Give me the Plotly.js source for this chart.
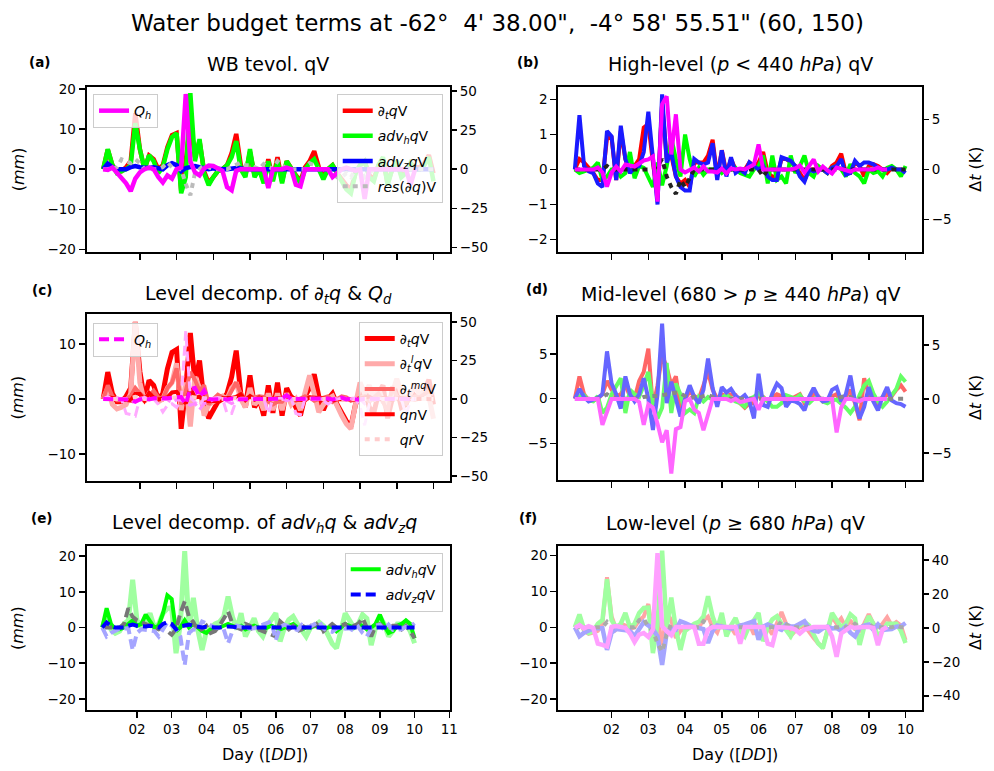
<!DOCTYPE html>
<html>
<head>
<meta charset="utf-8">
<script src="https://cdn.plot.ly/plotly-3.0.1.min.js"></script>
<style>html,body{margin:0;padding:0;background:#fff;}#chart{width:994px;height:771px;}</style>
</head>
<body>
<div id="chart"></div>
<script>
// ---- time axis (days of month, 3-hourly) ----
const T = [1,1.125,1.25,1.375,1.5,1.625,1.75,1.875,
  2,2.125,2.25,2.375,2.5,2.625,2.75,2.875,
  3,3.125,3.25,3.375,3.5,3.625,3.75,3.875,
  4,4.125,4.25,4.375,4.5,4.625,4.75,4.875,
  5,5.125,5.25,5.375,5.5,5.625,5.75,5.875,
  6,6.125,6.25,6.375,6.5,6.625,6.75,6.875,
  7,7.125,7.25,7.375,7.5,7.625,7.75,7.875,
  8,8.125,8.25,8.375,8.5,8.625,8.75,8.875,
  9,9.125,9.25,9.375,9.5,9.625,9.75,9.875,10];
const dayTicks = [2,3,4,5,6,7,8,9,10];
const dayLabels = ['02','03','04','05','06','07','08','09','10'];
const dayTicksE = [2,3,4,5,6,7,8,9,10,11];
const dayLabelsE = ['02','03','04','05','06','07','08','09','10','11'];

// ---- (a) column totals ----
const dtqTot = [0,4.9,1,-0.5,-0.5,0.5,2,14,5,0, 3.4,2.5,0,1,5.5,8.5,9,-5.4,2,12, 3,7,-0.5,-3.5,-2,-0.5,0,1,4,8.8,
  1,-1.5,4.3,-1.5,0,-3,2.5,-2.5,3,-3, 2,0,-1.5,-3,0.5,2,4.5,0.5,-2,0, 1,-1,-2.5,-4,-5,-1,1,2,-1.5,-2.5,
  1,2.5,-3.5,0,2,-1.5,-1,1.5,0.5,0.5,1.5,3.5,-1];
const advhTot = [0,5,1,-1,-0.5,0,1,11.5,5,0, 3.5,2,-1,0.5,5,8,9,-6,-2,19, 2,7.5,-1,-4,-2,-0.5,0,1,3,7,
  0,-2,5,-2,0,-3.5,2,-3,2,-3.5, 2,0,-2,-3.5,0,1.5,2.5,0,-2.5,0, 1,-1,-3,-5,-6,-1,1,2,-2,-3,
  1,3,-4,0,2,-2,-1,1.5,0,0,1,3,-3];
const advzTot = [0,1.4,0.5,0,0,0,0.5,0.8,0.5,0.3, 0.3,0.5,0.3,0,1,1.5,1,-0.5,0.3,0.5, 0.8,0.5,0.2,0,0.2,0,0,0,0.2,0.3,
  0.2,0,0,0,0.1,0,0,0,0,0, 0,0,0.1,0,0,0,0,0,0,0, 0,0,0,0,0,0,0,0,0,0, 0,0,0,0,0,0,0,0,0,0,0,0,0];
const resTot = [0,0,0,0.5,2.5,2,1.5,2.5,1.5,0, 0,0,0,0.5,1.7,0.5,0,0,-3.7,-6.5, -1,0,1,0.5,0,0,0,0,0.5,1,
  1.7,1,1,0.5,0,1.3,0.5,0,2,1, 0,0,0,0,0,1.5,1,0,0,0, -1,-2,-2,-1,-2,0,0,-2,-1,0, 0,0,0,0,0,0,0,0,0,0,0,0,0];
const QhTot = [0,-0.5,1,-2,-6,-9,-14,-6,-2,0, 1,0,-5,-8.5,-4,-6,0,1,48,5, -2,-4,0.5,2.3,2,0.5,-1,-11.5,-13.5,-1,
  0,0,0,0,0,0,-12,0,0,0, 1,0,-10,-11,0,0,0,0,0,0, -5,-2,0,1,0,-1,0,-19,0,0, 0,0,0,0,0,0,0,-10,0];

// ---- (b) high level ----
const redHigh = [0,0.3,0.2,0.05,-0.1,-0.3,-0.3,0.9,0.9,-0.3, 1.1,0.3,-0.1,0.1,0.3,1.2,1.3,0.2,-0.8,1.9,
  0.3,0.4,-0.2,-0.4,-0.3,-0.5,0.2,0.2,0.2,0.4, 0.85,-0.2,0.55,-0.1,0.3,0,0,0,0.2,0.1,
  0.2,0.5,-0.1,-0.2,-0.2,0.3,0.3,0.2,0.1,-0.1, -0.3,0,0,0,0,-0.1,0.1,0.2,0.45,-0.1,
  -0.1,0.2,0.1,-0.2,0.1,0.15,0.1,0,-0.1,0.05,0,0,-0.05];
const greenHigh = [0,-0.1,-0.05,0,0.05,0.2,-0.3,-0.2,0,0, -0.2,-0.1,0.5,-0.25,0.1,0.05,-0.2,-0.5,0.2,-0.45,
  0.1,0.9,0.3,-0.2,1.0,0.3,-0.2,0.05,-0.15,0, 0,0.05,-0.1,0,0,0.05,-0.1,-0.15,-0.2,0,
  0.1,0.4,-0.4,0.4,-0.3,-0.2,-0.4,0.4,-0.1,0.1, 0.4,-0.1,-0.2,0.1,0,-0.1,0.05,0.1,0,-0.2,
  0.15,-0.1,-0.2,-0.4,0,-0.1,-0.05,-0.2,0.05,0.1,0,-0.2,0.1];
const blueHigh = [0,1.55,0.1,-0.05,-0.1,-0.4,-0.5,1.1,0.95,-0.3, 1.25,0.3,-0.1,0.05,0.1,0.5,1.65,0.3,-1,2.15,
  0.2,0.5,-0.2,-0.5,-0.6,-0.6,0.3,0.2,0.15,0.2, 0.75,-0.3,0.55,-0.2,0.35,-0.1,0,-0.1,0.2,0.1,
  0,0.1,-0.2,-0.3,-0.3,0.35,0.3,0.25,0.1,-0.2, -0.35,0,-0.05,0,0,-0.1,0.05,0.1,0.3,-0.15,
  -0.1,0.25,0.1,0.2,0.2,0.15,0.05,0,0,0.05,0,0,-0.1];
const resHigh = [0,0,0,0,0,0,0,0.1,0,0, 0,0,0,0,0,0,0,0,0.1,0.3, -0.2,-0.5,-0.7,-0.3,-0.5,-0.25,0,0,0,0,
  0,0,0,0,0,0,0,0,0,0, 0,-0.2,0,0,0,0,0,0,0,0, 0,0,0,0,0,0,0,0,0,0, 0,0,0,0,0,0,0,0,0,0,0,0,0];
const QhHigh = [0,0,0,0,0,0.2,-0.3,-1.7,-0.3,0.3, -0.2,0.5,0.4,0.3,0.6,0.9,1.0,1.3,-3.2,6.5,
  7.3,1.5,5.5,0,-0.3,0,0.2,-0.2,0.3,-0.2, -0.2,-0.3,0.1,-0.4,0.1,0,0.1,0,0.2,0.5,
  2.5,0,0,0,0,0,0,0,0.1,0.4, -0.3,0.3,1.0,-0.2,0.3,-0.1,-0.4,0.2,0.1,0, -0.2,0,0,0,0,0,0.2,0,0];

// ---- (d) mid level ----
const redMid = [0,2.5,0.5,-0.2,-0.2,0,0.5,2,1,0.3, 0.5,1.5,0.3,0,2,3,5.6,-1,1.5,4.9,
  3.5,1.5,2.5,-1,0,0.8,0.3,0,1.5,3, 1,0,0.5,0.3,0.5,0.4,-0.5,-1,-0.5,-0.5,
  0.5,0.2,-0.3,0.2,0.5,0.3,-0.3,0,0.2,0.5, -0.5,0,0.5,0.3,-0.3,0,0.3,0.5,-0.5,0.3,
  1,-0.5,-2.4,2.3,0.5,-0.2,-0.8,0.2,0.5,0.3,1,1.5,0.8];
const greenMid = [0,0.3,0.4,-0.2,-0.3,0.3,-1.6,-1,0.5,1.5, 2.3,-1.6,1,0.5,0.2,1.5,3,-0.5,-2.2,-1,
  4,-1.6,1.7,0.5,-1.6,-1.2,-1.6,0.2,-0.3,0.2, -0.1,0,0.1,0.4,0,-0.3,-0.5,-0.9,0,0.2,
  0.6,0.2,-0.3,-0.9,-0.9,-0.5,0.4,0.2,0,0.4, -0.3,-0.5,0,0.2,-0.3,-0.5,-0.2,-0.1,-0.5,-1,
  -1.6,-0.9,0.4,1.5,2,0.6,-0.3,-0.9,-0.3,0.5,1.1,2.5,1.9];
const blueMid = [0,1.1,0.2,-0.3,-0.1,0.1,0.5,5.3,1.7,0.5, -1.1,2.5,0.5,-0.3,0.5,2.3,0,-3.5,0.5,8.4,
  -0.5,1.9,0,-2,0,1.5,0.2,-0.5,1,4.5, 1.2,-0.9,1.3,0.7,1.1,0.3,0,0.4,-0.3,-2.2,
  2.8,-0.7,-0.9,0.6,1.7,1.2,-0.9,-0.2,-0.3,-0.6, -1.3,0.2,1.2,0.2,-0.3,-0.2,1,1.3,-0.3,0.5,
  2.6,-0.3,-2.2,-0.9,1.3,-0.3,-1.3,0.2,1.3,-0.2,-0.5,-0.6,-0.9];
const resMid = [0,0,0,0,0,0,0.2,0.5,0.2,0, 0,0,0,0,0,0.2,0.3,0.3,0.3,0.4, 0.5,0.6,0.7,0.6,0.3,0,0.2,0.1,0.3,0.4,
  0.2,0,0,0,0,0,0,0,0,0, 0,0,0,0,0,0,0,0,0,0, 0,0,0,0,0,0,0,0,0.2,0.3, 0.2,0,0,0,0,0,0,0,0,0,0,0,0];
const QhMid = [0,0,0,0,0,0,-2.4,-1.2,0,0, 0,0,0,0,-0.3,-2.4,-0.5,-0.8,-2.3,-4, -2.9,-6.9,-2.8,-2.6,-0.2,0,-1,-1.3,-2.9,-1.3,
  0,0,0,0,-0.2,0,-0.3,-0.2,-0.1,0, -1,0,0,0,0,0,0,0,0,0, 0,0,0,0,0,0,0,-3.1,-0.8,0, 0,-0.1,-0.2,0,0,0,0,0,0];

// ---- (f) low level ----
const redLow = [0,2,-1,-1.8,-1.5,-1,1,14,3,-0.5, 1,0.5,-0.5,0,2,3,6.5,-2,3,-5,
  4,2,-3,-1,-0.5,0,0.5,0,2,3, 0,-1.5,2,-1,0,-2,1,-2,1,-2,
  1,-1,0,-2,1.5,4.3,1,-2.4,-1,0, 0.5,-1.5,-3,-4.5,-5.4,-1,3,1,2.5,0,
  2,-0.5,-1,1,3.7,1,0,1,2.8,0.5,1.5,0.5,-3.6];
const greenLow = [0,3.6,-0.5,-1.6,-1,1,2,13.4,2,0, 1,4,0,1,4,5.4,5.5,-7.2,1,21.4,
  0,8.3,-0.5,-6.3,-1,0,1,1.5,3,8.7, 3,-0.5,4,-2.5,0.5,2.6,-1,-2.5,0.5,2,
  4,-3.9,0,2.2,3.1,1,-1,-2.5,0,0.5, 1.5,0.5,-2,-4.5,-5.8,-0.5,4,2,0,1,
  3.6,2.5,-4.9,0,3.1,1,-2.5,-1,1,1,1,-1,-4.4];
const blueLow = [0,-2.5,-1.5,-1,-0.3,-0.3,-0.2,-6.3,-1.5,-0.5, -0.7,-1,-1,-2.5,-0.7,1.5,0.5,-0.5,-2.5,-10.5,
  -1.5,-0.5,-0.7,1.7,1.2,0.5,0,-0.2,-0.5,-4.4, -1,0.5,0.2,-0.2,-0.3,-0.2,0.5,0.8,1.2,1.7,
  -3.5,0.2,0.8,0.3,-0.5,-0.7,0.8,0.2,0.3,1, 1.7,-0.3,-1,-1.2,-0.3,0.2,-0.3,-0.2,-1,0.2,
  -1.5,-2.5,-0.2,0.5,0.8,-0.7,0.8,-0.7,-0.7,-0.5,0.2,0.3,1.2];
const resLow = [0,0,0,0,0,0,0,1.5,0,0, 0,0,0,0,2,2.5,0,-1,-4.5,-6.8, -2,1,0,0,0,0,0,0,1.7,1,
  0,0,0,0,0,0,0,0,0,0, 0,0,0,0,0,1.7,1,0,0,0, 0,0,0,0,0,0,0,0,0,0, 0,1,0,0,1,0,0,0,0,0,0.5,0,0];
const QhLow = [0,1.6,-0.3,1,0,-9.3,-10,-11,0.5,1, 0.5,0,-3.3,-8.3,-4,-3,-5.3,-1,44,1,
  -2,-4.3,0.5,0.5,0.5,1,0.5,-9.3,-9.3,-1, 0.5,0.5,0.5,0.5,0.5,0.5,-9.3,0.5,0.5,0.5,
  0.5,0.5,-9.3,-10.2,0.5,0.5,0.5,0,-1,-3.3, -1,0,0.5,0.5,0.5,0.5,-5,-17,-3.3,-1, 0.5,0,0.5,0.5,0.5,0,-10.2,-1,0.5];

// ---- (c) tendency decomposition extras ----
const qrCol = [0,0.2,0,0,0,0,0.2,0.4,0.2,0, 0,0,0,0,0.1,0.3,0.3,0,0.2,0.4, 0.3,0.2,0.1,0,0,0,0,0,0.1,0.2,
  0,0,0,0,0,0,0,0,0,0, 0,0,0,0,0,0,0,0,0,0, 0,0,0,0,0,0,0,0,0,0, 0,0,0,0,0,0,0,0,0,0,0,0,0];

// ---- (e) advection decomposition extras ----
const advhE = [0,5.4,1,-0.5,-0.5,0,1,2,0.5,1, 3.6,2,0,0.5,4,9,8,-1,0,2, 0,1,0,-1,-1.5,-0.5,0,0,0.5,1,
  0.5,0,0.5,-0.5,0,0.5,0,-0.5,0,0.5, 0,-0.5,0,0.5,1,0,-0.5,0,0,0.5, 0,-0.5,0,0.5,-1,0,1,0.5,0,1,
  0.5,-0.5,0,1,3.6,0.5,-1.5,-1,0.5,1,2,1,-3];
const grayE = [0,0,0,0,0,1,5.4,3,2,1.5, 1,0.5,0,-0.5,0,-1,-2,-0.5,4,7.3, 3,1.5,-1,-0.5,0.5,-1.5,-1,0.5,2.6,4.5,
  1,0,-0.5,1,0.5,-1,-0.5,-1,-1.5,-2, -2.5,1.7,0.5,-0.5,0.5,-1,-0.5,1,0.5,0.5, 1.7,-1,0,1,0,0.5,1,-0.5,0.5,1,
  2.6,0,-2.5,0.5,1,0,-0.5,0.5,0.5,-0.5,0.5,-1,-3];

// ---- legend / title texts ----
const nDtq = '∂<sub><i>t</i></sub><i>q</i>V';
const nAdvh = '<i>adv<sub>h</sub>q</i>V';
const nAdvz = '<i>adv<sub>z</sub>q</i>V';
const nRes = '<i>res</i>(∂<i>q</i>)V';
const nQh = '<i>Q<sub>h</sub></i>';
const nDtl = '∂<sub><i>t</i></sub><sup><i>l</i></sup><i>q</i>V';
const nDtm = '∂<sub><i>t</i></sub><sup><i>mq</i></sup>V';
const nQn = '<i>qn</i>V';
const nQr = '<i>qr</i>V';

const DOT = '5px,5px';
const DASH = '10px,5px';

function L(y, xa, ya, color, width, dash, name, leg) {
  const t = {x: T, y: y, xaxis: xa, yaxis: ya, type: 'scatter', mode: 'lines',
    line: {color: color, width: width, dash: dash || 'solid'}, hoverinfo: 'skip'};
  if (name) { t.name = name; t.legend = leg; t.legendgroup = leg + name; t.showlegend = true; }
  else { t.showlegend = false; }
  return t;
}

const traces = [
  // (a)
  L(dtqTot, 'x', 'y', '#ff0000', 4.5, null, nDtq, 'legend'),
  L(advhTot, 'x', 'y', '#00ff00', 4.5, null, nAdvh, 'legend'),
  L(advzTot, 'x', 'y', '#0000ff', 4.5, null, nAdvz, 'legend'),
  L(resTot, 'x', 'y', '#bbbbbb', 4, DOT, nRes, 'legend'),
  L(QhTot, 'x', 'y7', '#ff00ff', 4.5, null, nQh, 'legend2'),
  // (b)
  L(redHigh, 'x2', 'y2', '#ff0000', 4),
  L(greenHigh, 'x2', 'y2', '#00ff00', 4),
  L(blueHigh, 'x2', 'y2', '#1a1aff', 4),
  L(resHigh, 'x2', 'y2', '#222222', 4, DOT),
  L(QhHigh, 'x2', 'y8', '#ff00ff', 4),
  // (c)
  L(dtqTot, 'x3', 'y3', '#ff0000', 5, null, nDtq, 'legend3'),
  L(redLow, 'x3', 'y3', '#ffaaaa', 5, null, nDtl, 'legend3'),
  L(redMid, 'x3', 'y3', '#ff6666', 4, null, nDtm, 'legend3'),
  L(redHigh, 'x3', 'y3', '#ff0000', 4, null, nQn, 'legend3'),
  L(qrCol, 'x3', 'y3', '#ffcccc', 4, DOT, nQr, 'legend3'),
  L(QhLow, 'x3', 'y9', '#ffaaff', 3, DASH),
  L(QhMid, 'x3', 'y9', '#ff88ff', 3, DASH),
  L(QhHigh, 'x3', 'y9', '#ff00ff', 4, DASH, nQh, 'legend4'),
  // (d)
  L(redMid, 'x4', 'y4', '#ff6666', 4),
  L(greenMid, 'x4', 'y4', '#66ff66', 4),
  L(blueMid, 'x4', 'y4', '#6666ff', 4),
  L(resMid, 'x4', 'y4', '#888888', 4, DOT),
  L(QhMid, 'x4', 'y10', '#ff66ff', 4),
  // (e)
  L(greenLow, 'x5', 'y5', '#a0ffa0', 5),
  L(advhE, 'x5', 'y5', '#00ff00', 4, null, nAdvh, 'legend5'),
  L(grayE, 'x5', 'y5', '#777777', 4, DASH),
  L(blueLow, 'x5', 'y5', '#a5a5ff', 4, DASH),
  L(advzTot, 'x5', 'y5', '#0000ff', 4, DASH, nAdvz, 'legend5'),
  // (f)
  L(redLow, 'x6', 'y6', '#ffa5a5', 4),
  L(greenLow, 'x6', 'y6', '#a0ffa0', 4.5),
  L(blueLow, 'x6', 'y6', '#a5a5ff', 4.5),
  L(resLow, 'x6', 'y6', '#aaaaaa', 4, DOT),
  L(QhLow, 'x6', 'y11', '#ffa0ff', 4.5)
];

const M = '\u2212';
function tv(vals) { return vals.map(v => (v < 0 ? M + Math.abs(v) : String(v))); }

const TF = {size: 13.5, color: 'black', family: 'DejaVu Sans'};
const base = {showgrid: false, zeroline: false, showline: true, linecolor: 'black', linewidth: 2,
  mirror: true, ticks: 'outside', ticklen: 6, tickwidth: 1.5, tickcolor: 'black', tickfont: TF};
function X(dom, anchor, range, labels, ext) {
  return Object.assign({}, base, {domain: dom, anchor: anchor, range: range,
    tickmode: 'array', tickvals: ext ? dayTicksE : dayTicks, ticktext: ext ? dayLabelsE : dayLabels,
    showticklabels: labels});
}
function Y(dom, anchor, range, vals) {
  return Object.assign({}, base, {domain: dom, anchor: anchor, range: range,
    tickmode: 'array', tickvals: vals, ticktext: tv(vals)});
}
function Y2(over, anchor, range, vals) {
  return {overlaying: over, side: 'right', anchor: anchor, range: range, showgrid: false, zeroline: false,
    showline: false, ticks: 'outside', ticklen: 6, tickwidth: 1.5, tickcolor: 'black', tickfont: TF,
    tickmode: 'array', tickvals: vals, ticktext: tv(vals)};
}

const dL = [0.0872, 0.4527], dR = [0.5617, 0.9276];
const rTop = [0.6735, 0.8876], rBot = [0.0791, 0.2912];

const legBase = {bgcolor: 'rgba(255,255,255,0.8)', bordercolor: '#cccccc', borderwidth: 1,
  font: {size: 14, family: 'DejaVu Sans', color: 'black'}, traceorder: 'grouped', tracegroupgap: 4,
  xref: 'paper', yref: 'paper', yanchor: 'top'};

function ann(text, x, y, size, extra) {
  return Object.assign({text: text, x: x, y: y, xref: 'paper', yref: 'paper', showarrow: false,
    xanchor: 'center', yanchor: 'middle', font: {size: size, color: 'black', family: 'DejaVu Sans'}}, extra || {});
}

const layout = {
  width: 994, height: 771, margin: {l: 0, r: 0, t: 0, b: 0},
  paper_bgcolor: 'white', plot_bgcolor: 'white',
  font: {family: 'DejaVu Sans', color: 'black'},
  xaxis: X(dL, 'y', [0.55, 10.45], false),
  yaxis: Y(rTop, 'x', [-20.6, 20.6], [-20, -10, 0, 10, 20]),
  xaxis2: X(dR, 'y2', [0.55, 10.45], false),
  yaxis2: Y([0.6735, 0.8868], 'x2', [-2.35, 2.35], [-2, -1, 0, 1, 2]),
  xaxis3: X(dL, 'y3', [0.55, 10.45], false),
  yaxis3: Y([0.3765, 0.5923], 'x3', [-14.85, 15.4], [-10, 0, 10]),
  xaxis4: X(dR, 'y4', [0.55, 10.45], false),
  yaxis4: Y([0.3774, 0.5892], 'x4', [-9.1, 9.18], [-5, 0, 5]),
  xaxis5: X(dL, 'y5', [0.55, 11.02], true, true),
  yaxis5: Y(rBot, 'x5', [-23.1, 22.7], [-20, -10, 0, 10, 20]),
  xaxis6: X(dR, 'y6', [0.55, 10.45], true),
  yaxis6: Y([0.0791, 0.2918], 'x6', [-23.1, 22.7], [-20, -10, 0, 10, 20]),
  yaxis7: Y2('y', 'x', [-52.7, 52.7], [-50, -25, 0, 25, 50]),
  yaxis8: Y2('y2', 'x2', [-8.2, 8.2], [-5, 0, 5]),
  yaxis9: Y2('y3', 'x3', [-52.9, 54.9], [-50, -25, 0, 25, 50]),
  yaxis10: Y2('y4', 'x4', [-7.5, 7.6], [-5, 0, 5]),
  yaxis11: Y2('y6', 'x6', [-48.4, 48.2], [-40, -20, 0, 20, 40]),
  legend: Object.assign({}, legBase, {x: 0.4454, xanchor: 'right', y: 0.878}),
  legend2: Object.assign({}, legBase, {x: 0.0936, xanchor: 'left', y: 0.878}),
  legend3: Object.assign({}, legBase, {x: 0.4454, xanchor: 'right', y: 0.5824}),
  legend4: Object.assign({}, legBase, {x: 0.0936, xanchor: 'left', y: 0.5815}),
  legend5: Object.assign({}, legBase, {x: 0.4454, xanchor: 'right', y: 0.2831}),
  annotations: [
    ann('Water budget terms at -62°\u00a0\u00a04\' 38.00",\u00a0\u00a0-4° 58\' 55.51" (60, 150)', 0.5, 0.9700, 23),
    ann('WB tevol. qV', 0.2700, 0.917, 19),
    ann('High-level (<i>p</i> < 440 <i>hPa</i>) qV', 0.745, 0.917, 19),
    ann('Level decomp. of ∂<sub><i>t</i></sub><i>q</i> & <i>Q<sub>d</sub></i>', 0.2700, 0.6174, 19),
    ann('Mid-level (680 > <i>p</i> ≥ 440 <i>hPa</i>) qV', 0.745, 0.6187, 19),
    ann('Level decomp. of <i>adv<sub>h</sub>q</i> & <i>adv<sub>z</sub>q</i>', 0.2660, 0.3204, 19),
    ann('Low-level (<i>p</i> ≥ 680 <i>hPa</i>) qV', 0.740, 0.3217, 19),
    ann('<b>(a)</b>', 0.0402, 0.9196, 13.5),
    ann('<b>(b)</b>', 0.531, 0.9196, 13.5),
    ann('<b>(c)</b>', 0.0423, 0.6239, 13.5),
    ann('<b>(d)</b>', 0.540, 0.6252, 13.5),
    ann('<b>(e)</b>', 0.0423, 0.3281, 13.5),
    ann('<b>(f)</b>', 0.531, 0.3281, 13.5),
    ann('(<i>mm</i>)', 0.0181, 0.7805, 16, {textangle: -90}),
    ann('(<i>mm</i>)', 0.0181, 0.4844, 16, {textangle: -90}),
    ann('(<i>mm</i>)', 0.0181, 0.1855, 16, {textangle: -90}),
    ann('Δ<i>t</i> (K)', 0.982, 0.780, 16, {textangle: -90}),
    ann('Δ<i>t</i> (K)', 0.982, 0.4838, 16, {textangle: -90}),
    ann('Δ<i>t</i> (K)', 0.982, 0.1855, 16, {textangle: -90}),
    ann('Day ([<i>DD</i>])', 0.2666, 0.0208, 16),
    ann('Day ([<i>DD</i>])', 0.7394, 0.0208, 16)
  ]
};

Plotly.newPlot('chart', traces, layout, {staticPlot: true, displayModeBar: false});
</script>
</body>
</html>
